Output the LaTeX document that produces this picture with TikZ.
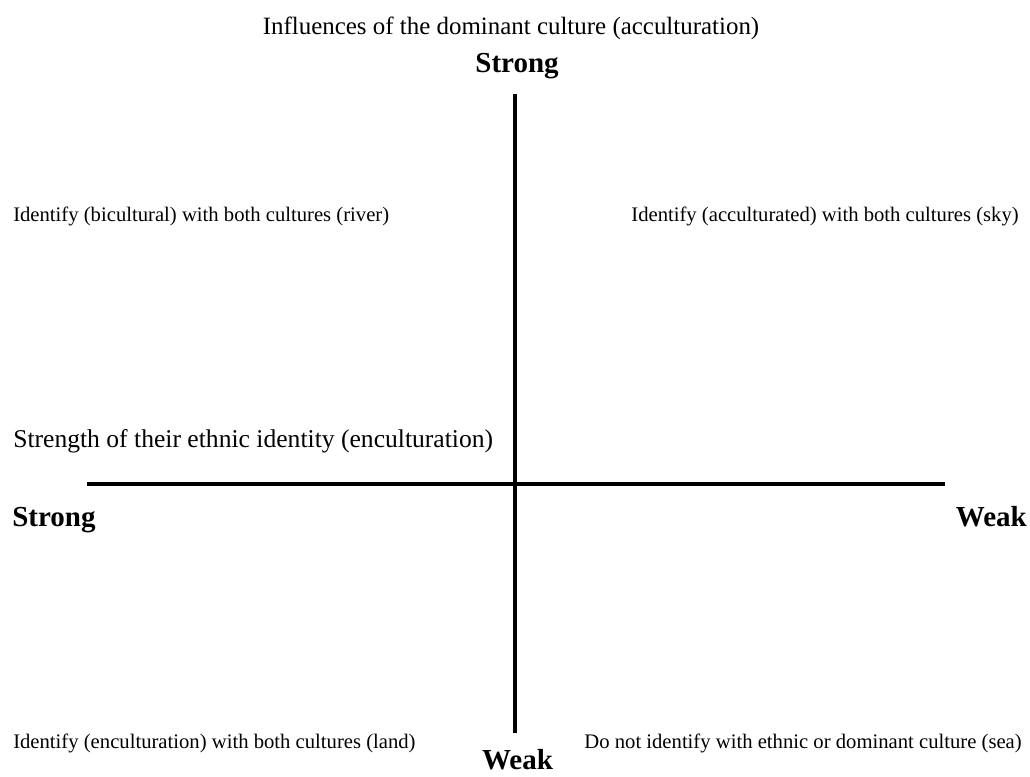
\documentclass[tikz,border=0pt]{standalone}
\usepackage{fontspec}
\setmainfont{Liberation Serif}
\begin{document}
\begin{tikzpicture}[x=0.75pt,y=-0.75pt,
  quadlbl/.style={inner sep=0pt, font=\fontsize{15.5}{18}\selectfont},
  axislbl/.style={inner sep=0pt, font=\fontsize{21.75}{26}\selectfont\bfseries},
  titlelbl/.style={inner sep=0pt, font=\fontsize{18.7}{22}\selectfont},
  axisline/.style={line width=3.3pt}]
\useasboundingbox (0,0) rectangle (1030,776);
% axes
\coordinate (vtop) at (515,94);
\coordinate (vbot) at (515,733);
\coordinate (hleft) at (87,484);
\coordinate (hright) at (945,484);
\draw[axisline] (vtop) -- (vbot);
\draw[axisline] (hleft) -- (hright);
% axis titles and ends
\node[titlelbl, anchor=base] (ytitle) at (511,34) {Influences of the dominant culture (acculturation)};
\node[axislbl, anchor=base] (ystrong) at (517,72) {Strong};
\node[axislbl, anchor=base] (yweak) at (517.5,769) {Weak};
\node[titlelbl, anchor=base west, font=\fontsize{19.2}{22}\selectfont] (xtitle) at (13,447) {Strength of their ethnic identity (enculturation)};
\node[axislbl, anchor=base west] (xstrong) at (12,526) {Strong};
\node[axislbl, anchor=base east] (xweak) at (1027,526) {Weak};
% quadrant labels
\node[quadlbl, anchor=base west] (qriver) at (13,221) {Identify (bicultural) with both cultures (river)};
\node[quadlbl, anchor=base east] (qsky) at (1019,221) {Identify (acculturated) with both cultures (sky)};
\node[quadlbl, anchor=base west] (qland) at (13,748) {Identify (enculturation) with both cultures (land)};
\node[quadlbl, anchor=base east] (qsea) at (1022,748) {Do not identify with ethnic or dominant culture (sea)};
\end{tikzpicture}
\end{document}
